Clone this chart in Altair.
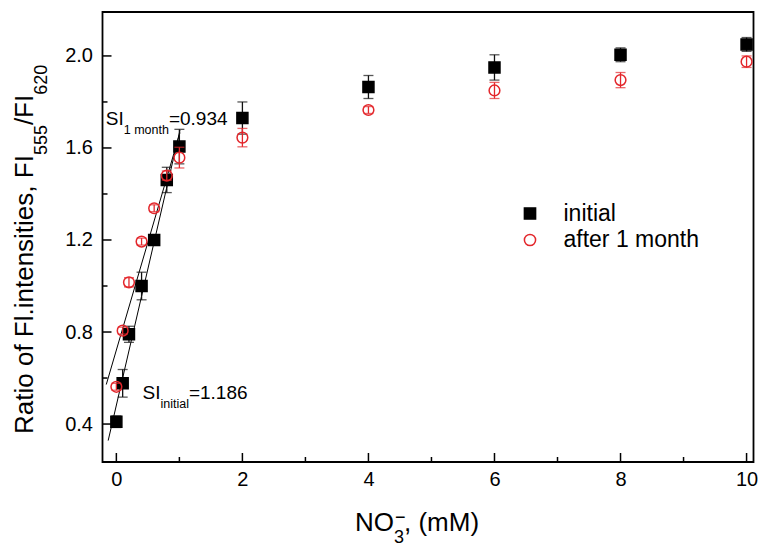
import altair as alt
import pandas as pd

# ---------------- data ----------------
conc = [0, 0.1, 0.2, 0.4, 0.6, 0.8, 1.0, 2, 4, 6, 8, 10]
initial_y = [0.41, 0.577, 0.79, 1.0, 1.2, 1.461, 1.606, 1.73, 1.865, 1.95, 2.005, 2.05]
initial_err = [0.025, 0.06, 0.035, 0.06, 0.02, 0.055, 0.075, 0.07, 0.05, 0.055, 0.03, 0.03]
month_y = [0.562, 0.806, 1.016, 1.193, 1.338, 1.48, 1.558, 1.645, 1.765, 1.85, 1.895, 1.975]
month_err = [0.015, 0.015, 0.02, 0.015, 0.015, 0.02, 0.045, 0.04, 0.015, 0.035, 0.033, 0.025]
series_names = ["initial", "after 1 month"]
x_major = [0, 2, 4, 6, 8, 10]
x_minor = [1, 3, 5, 7, 9]
y_major = [0.4, 0.8, 1.2, 1.6, 2.0]
y_minor = [0.6, 1.0, 1.4, 1.8]
fit_max_x = 1.0

# ---------------- layout ----------------
W, H = 651, 450
RED = "#e3262b"
FONT = "Liberation Sans"
XDOM = [-0.22, 10.11]
YDOM = [0.235, 2.191]

AW = {' ': 278, ',': 278, '.': 278, '/': 278, '(': 333, ')': 333, '=': 584,
      'F': 611, 'I': 278, 'M': 833, 'N': 722, 'O': 778, 'R': 722, 'S': 667,
      'a': 556, 'e': 556, 'f': 278, 'h': 556, 'i': 222, 'l': 222, 'm': 833,
      'n': 556, 'o': 556, 's': 500, 't': 278, '\u2212': 584}


def tw(s, size):
    return sum(AW.get(c, 556) for c in s) * size / 1000.0


def frame(name, vals, err):
    return pd.DataFrame({
        "x": conc, "y": vals,
        "lo": [v - e for v, e in zip(vals, err)],
        "hi": [v + e for v, e in zip(vals, err)],
        "series": name,
    })


d_init = frame(series_names[0], initial_y, initial_err)
d_month = frame(series_names[1], month_y, month_err)

xs = alt.Scale(domain=XDOM, nice=False, zero=False)
ys = alt.Scale(domain=YDOM, nice=False, zero=False)
AX = alt.Axis(values=x_major, format="d", ticks=False, domain=False, grid=False,
              labelFontSize=20, labelFont=FONT, labelColor="black", labelPadding=7, title=None)
AY = alt.Axis(values=y_major, format=".1f", ticks=False, domain=False, grid=False,
              labelFontSize=20, labelFont=FONT, labelColor="black", labelPadding=10, title=None)


def X(field):
    return alt.X(field, scale=xs, axis=AX, title=None)


def Y(field):
    return alt.Y(field, scale=ys, axis=AY, title=None)


def ticks_x(vals, length):
    return alt.Chart(pd.DataFrame({"v": vals})).mark_rule(color="black", strokeWidth=1.5).encode(
        x=X("v:Q"), y=alt.value(H), y2=alt.value(H - length))


def ticks_y(vals, length):
    return alt.Chart(pd.DataFrame({"v": vals})).mark_rule(color="black", strokeWidth=1.5).encode(
        y=Y("v:Q"), x=alt.value(0), x2=alt.value(length))


def errbars(d, color):
    rule = alt.Chart(d).mark_rule(color=color, strokeWidth=1.3).encode(
        x=X("x:Q"), y=Y("lo:Q"), y2="hi:Q")
    cap_lo = alt.Chart(d).mark_tick(color=color, orient="horizontal", size=10, thickness=1.3).encode(
        x=X("x:Q"), y=Y("lo:Q"))
    cap_hi = alt.Chart(d).mark_tick(color=color, orient="horizontal", size=10, thickness=1.3).encode(
        x=X("x:Q"), y=Y("hi:Q"))
    return rule + cap_lo + cap_hi


legend = alt.Legend(title=None, orient="none", legendX=416, legendY=190, labelFontSize=23,
                    labelFont=FONT, labelColor="black", symbolSize=125, symbolStrokeWidth=1.5,
                    rowPadding=2.5, padding=0, labelOffset=22)
sdom = series_names


def points(d, size):
    return alt.Chart(d).mark_point(filled=False, opacity=1, strokeWidth=1.5, size=size).encode(
        x=X("x:Q"), y=Y("y:Q"),
        shape=alt.Shape("series:N", scale=alt.Scale(domain=sdom, range=["square", "circle"]), legend=legend),
        stroke=alt.Stroke("series:N", scale=alt.Scale(domain=sdom, range=["black", RED]), legend=legend),
        fill=alt.Fill("series:N", scale=alt.Scale(domain=sdom, range=["black", "transparent"]), legend=legend),
    )


def fit(d, ext):
    return alt.Chart(d).transform_filter(alt.datum.x <= fit_max_x).transform_regression(
        "x", "y", extent=ext).mark_line(color="black", strokeWidth=1).encode(
        x=X("x:Q"), y=Y("y:Q"))


def txt(s, x, y, size, angle=0):
    return alt.Chart(pd.DataFrame({"t": [s]})).mark_text(
        align="left", baseline="alphabetic", font=FONT, fontSize=size, color="black", angle=angle
    ).encode(x=alt.value(x), y=alt.value(y), text="t:N")


# annotations
MAIN, SUB = 19, 12.5
a1x, a1y = 40, 387.3
ann1 = (txt("SI", a1x, a1y, MAIN)
        + txt("initial", a1x + tw("SI", MAIN), a1y + 9, SUB)
        + txt("=1.186", a1x + tw("SI", MAIN) + tw("initial", SUB), a1y, MAIN))
a2x, a2y = 3.3, 113
ann2 = (txt("SI", a2x, a2y, MAIN)
        + txt("1 month", a2x + tw("SI", MAIN), a2y + 9, SUB)
        + txt("=0.934", a2x + tw("SI", MAIN) + tw("1 month", SUB), a2y, MAIN))

# axis titles
TF, TS = 26, 18
xt_x, xt_y = 252.5, 519
p1 = "NO"
xtitle = (txt(p1, xt_x, xt_y, TF)
          + txt("3", xt_x + tw(p1, TF), xt_y + 12, TS)
          + txt("\u2212", xt_x + tw(p1, TF) + 1, xt_y - 8, TS)
          + txt(", (mM)", xt_x + tw(p1, TF) + tw("3", TS), xt_y, TF))

yt_x, yt_y = -69.2, 422
q1, q2, q3, q4 = "Ratio of Fl.intensities, FI", "555", "/FI", "620"
o1 = tw(q1, TF)
o2 = o1 + tw(q2, TS)
o3 = o2 + tw(q3, TF)
ytitle = (txt(q1, yt_x, yt_y, TF, 270)
          + txt(q2, yt_x + 14, yt_y - o1, TS, 270)
          + txt(q3, yt_x, yt_y - o2, TF, 270)
          + txt(q4, yt_x + 14, yt_y - o3, TS, 270))

chart = alt.layer(
    axes if False else alt.Chart(d_init).mark_point(opacity=0).encode(x=X("x:Q"), y=Y("y:Q")),
    ticks_x(x_major, 9), ticks_x(x_minor, 5), ticks_y(y_major, 9), ticks_y(y_minor, 5),
    fit(d_init, [-0.13, 1.01]), fit(d_month, [-0.16, 1.01]),
    errbars(d_init, "#111111"), points(d_init, 121),
    errbars(d_month, RED), points(d_month, 115),
    ann1, ann2, xtitle, ytitle,
).properties(
    width=W, height=H,
    autosize=alt.AutoSizeParams(type="none"),
    padding={"left": 94.5, "top": 4, "right": 12, "bottom": 90},
).configure_view(stroke="black", strokeWidth=1.8)

chart.save("out.html", embed_options={"renderer": "svg", "actions": False})
